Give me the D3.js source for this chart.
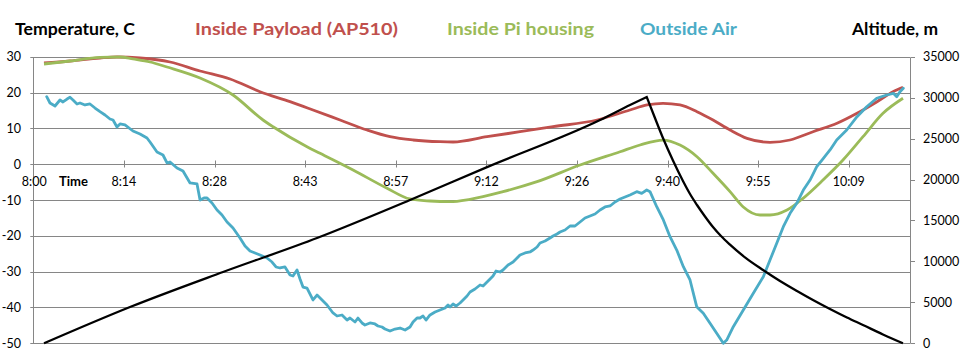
<!DOCTYPE html>
<html><head><meta charset="utf-8">
<script src="https://cdn.jsdelivr.net/npm/d3@7"></script>
<style>
html,body{margin:0;padding:0;background:#fff;}
svg{display:block;font-family:Lato,"Open Sans",sans-serif;}
</style></head>
<body><svg id="c" width="962" height="358"></svg>
<script>
// ---- data (minutes after 8:00, value) ----
const timeTickMinutes = [0,14.4,28.8,43.2,57.6,72,86.4,100.8,115.2,129.6];
const timeTickLabels = ["8:00","8:14","8:28","8:43","8:57","9:12","9:26","9:40","9:55","10:09"];
const tempTicks = [-50,-40,-30,-20,-10,0,10,20,30];
const altTicks = [0,5000,10000,15000,20000,25000,30000,35000];
const seriesNames = ["Inside Payload (AP510)","Inside Pi housing","Outside Air"];

const payloadTemp = [[1.70,28.24],[5.83,28.80],[10.60,29.64],[13.30,29.92],[16.96,29.64],[21.73,28.52],[26.50,26.01],[31.27,23.78],[36.03,20.23],[40.80,17.44],[44.45,15.12],[48.75,12.33],[53.04,9.54],[56.69,7.67],[60.35,6.75],[64.64,6.27],[66.71,6.19],[72.11,7.67],[77.35,9.06],[82.60,10.46],[89.59,12.33],[94.83,15.12],[97.54,16.52],[100.08,16.99],[102.78,16.52],[105.48,14.65],[108.03,12.33],[110.73,9.54],[113.43,7.22],[117.08,6.11],[120.26,6.75],[123.92,9.06],[127.73,11.41],[130.91,14.20],[134.09,17.44],[136.63,20.23],[138.22,21.46]];

const piTemp = [[1.70,27.96],[5.83,28.80],[10.60,29.83],[13.78,29.92],[15.84,29.36],[18.55,28.52],[21.25,27.12],[26.50,24.05],[31.74,19.31],[36.51,12.33],[38.10,10.46],[43.50,4.88],[45.57,3.04],[50.82,-1.62],[56.22,-6.73],[59.87,-9.72],[63.05,-10.28],[66.23,-10.47],[69.41,-9.80],[74.65,-7.68],[80.06,-4.89],[86.89,-0.23],[93.25,3.48],[96.43,5.35],[100.08,6.74],[102.78,5.35],[105.48,2.09],[108.03,-2.55],[110.73,-7.68],[112.79,-11.87],[115.49,-14.19],[117.08,-14.19],[119.78,-12.79],[122.33,-9.53],[125.50,-4.42],[128.68,1.16],[131.86,7.67],[135.04,14.20],[138.22,18.39]];

const outsideTemp = [[2.13,18.83],[2.65,17.08],[3.45,16.24],[4.24,17.91],[4.72,17.36],[5.36,18.19],[5.83,18.67],[6.31,17.91],[6.95,16.80],[7.42,17.08],[8.22,16.52],[9.01,16.80],[9.81,15.68],[10.60,14.65],[11.40,13.73],[12.19,12.61],[12.67,12.33],[13.30,10.38],[13.78,11.22],[14.57,10.94],[15.84,9.26],[16.96,8.42],[18.07,7.31],[18.55,6.19],[19.66,3.40],[20.61,2.56],[21.25,0.33],[21.73,0.61],[22.84,-1.07],[23.79,-1.90],[24.91,-5.25],[26.02,-5.53],[26.50,-10.00],[27.13,-9.44],[27.61,-9.44],[28.40,-10.84],[29.20,-12.79],[29.99,-14.19],[30.79,-16.14],[31.74,-17.82],[32.85,-20.61],[33.65,-22.84],[34.44,-24.24],[35.24,-24.79],[36.03,-25.35],[37.14,-26.19],[37.94,-27.31],[38.57,-28.70],[39.21,-28.98],[40.00,-28.70],[40.80,-30.94],[41.27,-31.21],[41.91,-29.54],[42.39,-32.05],[42.86,-34.29],[43.50,-34.57],[44.45,-37.91],[45.09,-36.52],[45.57,-37.36],[46.68,-39.31],[47.63,-41.54],[48.27,-42.38],[49.06,-42.10],[49.86,-43.50],[50.33,-42.94],[51.13,-44.05],[51.60,-42.94],[52.24,-44.33],[52.71,-44.89],[53.51,-44.33],[54.30,-44.61],[54.78,-45.17],[55.42,-45.45],[55.89,-46.01],[56.69,-46.56],[57.49,-46.01],[58.28,-45.73],[59.08,-46.29],[59.87,-45.45],[60.35,-44.05],[60.99,-42.94],[61.46,-42.94],[61.94,-42.38],[62.41,-43.50],[63.05,-42.10],[63.85,-41.26],[64.64,-40.71],[65.44,-40.15],[65.91,-39.31],[66.23,-39.87],[66.71,-39.03],[67.18,-39.59],[67.82,-38.75],[68.30,-37.91],[68.93,-36.80],[69.41,-35.68],[70.20,-34.84],[71.00,-33.72],[71.48,-34.00],[72.11,-32.89],[72.59,-32.05],[73.06,-31.21],[73.54,-29.82],[74.18,-30.10],[74.65,-29.54],[75.45,-28.14],[76.24,-27.31],[76.88,-26.19],[77.35,-25.35],[78.15,-24.79],[78.94,-24.51],[79.42,-23.96],[80.06,-23.12],[80.53,-22.00],[81.33,-21.44],[82.12,-20.61],[82.60,-20.05],[83.23,-19.49],[83.71,-18.93],[84.50,-18.37],[85.30,-17.26],[86.09,-17.26],[86.89,-16.14],[87.68,-15.02],[88.48,-14.46],[89.27,-13.91],[90.07,-12.79],[90.86,-11.95],[91.66,-11.67],[92.45,-10.56],[93.25,-9.72],[94.04,-9.16],[94.83,-8.60],[95.90,-7.68],[96.69,-8.13],[97.49,-7.21],[98.01,-7.68],[99.08,-11.87],[100.13,-15.58],[101.19,-20.24],[102.26,-23.96],[103.31,-28.62],[104.37,-32.33],[105.43,-39.78],[106.48,-41.62],[107.55,-44.41],[108.61,-47.21],[109.66,-50.00],[110.20,-49.08],[111.25,-45.36],[112.84,-40.70],[114.43,-36.04],[116.02,-31.41],[117.08,-26.75],[118.15,-22.09],[119.20,-17.45],[120.27,-13.71],[121.33,-10.92],[122.38,-7.21],[123.44,-4.42],[124.51,-0.70],[125.56,1.64],[126.62,3.96],[127.68,6.75],[129.27,9.54],[130.91,13.25],[132.45,16.04],[134.04,18.39],[135.63,19.31],[136.68,19.78],[137.22,18.83],[137.74,20.23],[138.27,21.18]];

const altitudeAscent = [[1.70,0],[15.37,4430],[30.15,8710],[45.09,12860],[59.87,17500],[72.11,21520],[90.07,27270],[94.83,29100],[97.49,30080]];
const altitudeDescent = [[97.49,30080],[98.80,27510],[100.07,25070],[101.66,22320],[103.25,19820],[104.37,18230],[105.48,16890],[106.75,15490],[108.02,14200],[109.29,13100],[110.72,12050],[113.26,10400],[115.97,8950],[118.67,7610],[121.37,6390],[123.91,5290],[126.61,4190],[129.31,3150],[131.85,2240],[135.03,1080],[138.21,0]];

// ---- drawing ----
const svg = d3.select("#c");
const L = 33.3, R = 910, T = 56.7, B = 343.3;
const x = d3.scaleLinear().domain([0,139.33]).range([L,R]);
const yT = d3.scaleLinear().domain([-50,30]).range([B,T]);
const yA = d3.scaleLinear().domain([0,35000]).range([B,T]);
const grid = "#868686";
const colors = ["#C0504D","#9BBB59","#4BACC6"];
const crisp = v => Math.round(v)+0.5;

// gridlines
svg.append("g").selectAll("line").data(tempTicks).join("line")
  .attr("x1",L-3).attr("x2",R).attr("y1",d=>crisp(yT(d))).attr("y2",d=>crisp(yT(d)))
  .attr("stroke",grid).attr("stroke-width",1);
// left axis line
svg.append("line").attr("x1",crisp(L)).attr("x2",crisp(L)).attr("y1",crisp(yT(30))).attr("y2",crisp(yT(-50)))
  .attr("stroke",grid);
// right axis
svg.append("line").attr("x1",crisp(R)).attr("x2",crisp(R)).attr("y1",crisp(yA(35000))).attr("y2",crisp(yA(0)))
  .attr("stroke",grid);
svg.append("g").selectAll("line").data(altTicks).join("line")
  .attr("x1",crisp(R)).attr("x2",R+5).attr("y1",d=>crisp(yA(d))).attr("y2",d=>crisp(yA(d)))
  .attr("stroke",grid);
svg.append("g").selectAll("text").data(altTicks).join("text")
  .attr("x",923).attr("y",d=>yA(d)).attr("dy","0.36em")
  .attr("font-size",12.5).attr("fill","#000").text(d=>d);
// left tick labels
svg.append("g").selectAll("text").data(tempTicks).join("text")
  .attr("x",21).attr("y",d=>yT(d)).attr("dy","0.36em").attr("text-anchor","end")
  .attr("font-size",12.5).attr("fill","#000").text(d=>d);
// x axis ticks and labels (axis crosses at 0)
const y0 = crisp(yT(0));
svg.append("g").selectAll("line").data(timeTickMinutes.slice(1)).join("line")
  .attr("x1",d=>crisp(x(d))).attr("x2",d=>crisp(x(d))).attr("y1",y0-4).attr("y2",y0+3)
  .attr("stroke",grid);
svg.append("g").selectAll("text").data(timeTickMinutes).join("text")
  .attr("x",(d,i)=>x(d)+(i===0?1:0)).attr("y",186).attr("text-anchor","middle")
  .attr("font-size",12.5).attr("fill","#000").text((d,i)=>timeTickLabels[i]);
svg.append("text").attr("x",59).attr("y",186).attr("font-size",14).attr("font-weight","bold")
  .attr("textLength",29).attr("lengthAdjust","spacingAndGlyphs").text("Time");

// series
const tLine = d3.line().x(d=>x(d[0])).y(d=>yT(d[1]));
const smooth = d3.line().x(d=>x(d[0])).y(d=>yT(d[1])).curve(d3.curveMonotoneX);
const aLine = d3.line().x(d=>x(d[0])).y(d=>yA(d[1])).curve(d3.curveMonotoneX);
svg.append("path").datum(payloadTemp).attr("d",smooth).attr("fill","none")
  .attr("stroke",colors[0]).attr("stroke-width",2.8).attr("stroke-linejoin","round");
svg.append("path").datum(piTemp).attr("d",smooth).attr("fill","none")
  .attr("stroke",colors[1]).attr("stroke-width",2.8).attr("stroke-linejoin","round");
svg.append("path").datum(outsideTemp).attr("d",tLine).attr("fill","none")
  .attr("stroke",colors[2]).attr("stroke-width",2.8).attr("stroke-linejoin","round").attr("stroke-linecap","round");
const descentPath = aLine(altitudeDescent).replace(/^M/,"L");
svg.append("path").attr("d",aLine(altitudeAscent)+descentPath).attr("fill","none")
  .attr("stroke","#000").attr("stroke-width",2.3).attr("stroke-linejoin","miter");

// titles
const titles = [
  {t:"Temperature, C", x:15, w:120, c:"#000"},
  {t:seriesNames[0], x:195, w:203, c:colors[0]},
  {t:seriesNames[1], x:447, w:147, c:colors[1]},
  {t:seriesNames[2], x:640, w:97, c:colors[2]},
  {t:"Altitude, m", x:852, w:86, c:"#000"}
];
svg.append("g").selectAll("text").data(titles).join("text")
  .attr("x",d=>d.x).attr("y",35).attr("font-size",17).attr("font-weight","bold")
  .attr("fill",d=>d.c).attr("textLength",d=>d.w).attr("lengthAdjust","spacingAndGlyphs")
  .text(d=>d.t);
</script></body></html>
